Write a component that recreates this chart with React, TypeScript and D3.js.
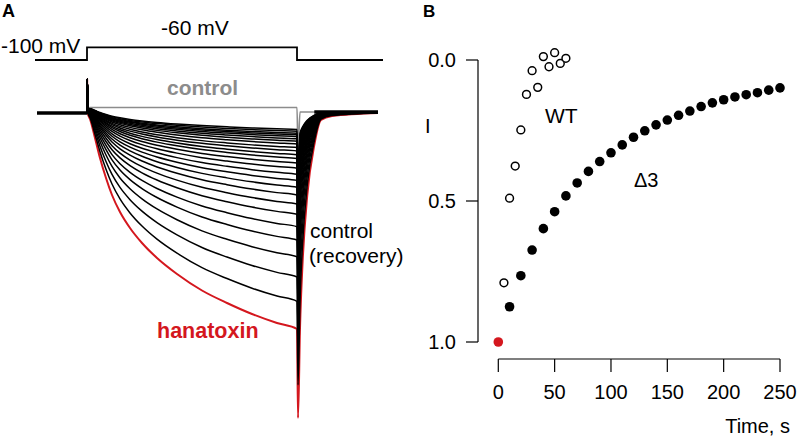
import * as d3 from 'd3'

// panel B: recovery of current after hanatoxin washout (normalized I)
const wtTime = [5, 10, 15, 20, 25, 30, 35, 40, 45, 50, 55, 60]
const wtI = [0.79, 0.49, 0.376, 0.248, 0.122, 0.038, 0.097, -0.012, 0.024, -0.026, 0.012, -0.006]

const d3Time = [10, 20, 30, 40, 50, 60, 70, 80, 90, 100, 110, 120, 130, 140, 150, 160, 170, 180, 190, 200, 210, 220, 230, 240, 250]
const d3I = [0.875, 0.765, 0.674, 0.598, 0.538, 0.482, 0.436, 0.395, 0.36, 0.329, 0.301, 0.274, 0.251, 0.23, 0.213, 0.196, 0.181, 0.165, 0.152, 0.141, 0.131, 0.123, 0.116, 0.107, 0.099]

const toxinTime = [0]
const toxinI = [1.0]

const xTicksB = [0, 50, 100, 150, 200, 250]
const yTicksB = [0, 0.5, 1]

// panel A: current sweeps (ms, nA)
const sweepT = [-50, 0, 0.2, 1, 3, 8, 13, 19, 25, 33, 43, 55, 70, 90, 115, 140, 165, 190, 210, 211, 213, 215.6, 220.3, 227.3, 234, 245, 291]
const hanatoxinI = [0, 0, 0.68, -0.02, -0.12, -0.5, -0.9, -1.3, -1.64, -1.98, -2.3, -2.6, -2.9, -3.22, -3.55, -3.8, -4.02, -4.2, -4.32, -6.1, -4.3, -2.98, -1.64, -0.64, -0.14, -0.06, 0]
const controlI = [0, 0, 0.68, 0.1, 0.11, 0.11, 0.11, 0.11, 0.11, 0.11, 0.11, 0.11, 0.11, 0.11, 0.11, 0.11, 0.11, 0.11, 0.11, -0.8, 0.02, 0.02, 0.02, 0.02, 0.02, 0.02, 0.02]

const protocolT = [-52, 0, 0, 210, 210, 296]
const protocolV = [-100, -100, -60, -60, -100, -100]

const FONT = '"Liberation Sans", Arial, sans-serif'
const RED = '#d4171e'

export default function App() {
  // panel A scales
  const xA = d3.scaleLinear([-52, 296], [35, 383])
  const yA = d3.scaleLinear([0, -1], [113, 163])
  const yV = d3.scaleLinear([-100, -60], [60, 47.3])

  // panel B scales
  const xB = d3.scaleLinear([0, 250], [498.3, 780])
  const yB = d3.scaleLinear([0, 1], [60, 342])

  const sweepLine = d3.line<[number, number]>()
    .x(d => xA(d[0]))
    .y(d => yA(d[1]))
    .curve(d3.curveMonotoneX)

  const protocolLine = d3.line<[number, number]>()
    .x(d => xA(d[0]))
    .y(d => yV(d[1]))

  const toxinPts = sweepT.map((t, i) => [t, hanatoxinI[i]] as [number, number])
  const controlPts = sweepT.map((t, i) => [t, controlI[i]] as [number, number])
  // each recovery sweep is the blocked fraction f of the toxin sweep plus the rest of the control
  const recoverySweeps = d3I.map(f =>
    sweepT.map((t, i) => [t, f * hanatoxinI[i] + (1 - f) * controlI[i]] as [number, number])
  )
  const noisyPre = toxinPts.filter(d => d[0] <= 0)
  const noisyPost = controlPts.filter(d => d[0] >= 227)

  return (
    <svg width={800} height={439} style={{ position: 'absolute', left: 0, top: 0, background: '#fff' }}
      fontFamily={FONT}>
      {/* ---- panel A ---- */}
      <text x={2} y={17} fontSize={18} fontWeight="bold">A</text>
      <path d={protocolLine(protocolT.map((t, i) => [t, protocolV[i]]))!} fill="none" stroke="#000" strokeWidth={1.8} />
      <text x={1} y={53} fontSize={21}>-100 mV</text>
      <text x={161} y={35} fontSize={21}>-60 mV</text>

      <path d={sweepLine(controlPts)!} fill="none" stroke="#8c8c8c" strokeWidth={1.6} />
      <path d={sweepLine(toxinPts)!} fill="none" stroke={RED} strokeWidth={2} />
      {recoverySweeps.map((pts, i) => (
        <path key={i} d={sweepLine(pts)!} fill="none" stroke="#000" strokeWidth={1.5} />
      ))}
      <path d={sweepLine(noisyPre)!} fill="none" stroke="#000" strokeWidth={3.5} />
      <path d={sweepLine(noisyPost)!} fill="none" stroke="#000" strokeWidth={3.5} />

      <text x={167} y={95} fontSize={21} fontWeight="bold" fill="#8c8c8c">control</text>
      <text x={310} y={238} fontSize={21}>control</text>
      <text x={309} y={263} fontSize={21}>(recovery)</text>
      <text x={157} y={338} fontSize={21.5} fontWeight="bold" fill={RED}>hanatoxin</text>

      {/* ---- panel B ---- */}
      <text x={423} y={17} fontSize={17} fontWeight="bold">B</text>

      <g stroke="#000" strokeWidth={1.2}>
        <line x1={478} x2={478} y1={yB(0)} y2={yB(1)} />
        {yTicksB.map(v => <line key={v} x1={466} x2={478} y1={yB(v)} y2={yB(v)} />)}
        <line x1={xB(0)} x2={xB(250)} y1={359} y2={359} />
        {xTicksB.map(v => <line key={v} x1={xB(v)} x2={xB(v)} y1={359} y2={372} />)}
      </g>
      {yTicksB.map(v => (
        <text key={v} x={456} y={yB(v) + 7} fontSize={20} textAnchor="end">{d3.format('.1f')(v)}</text>
      ))}
      {xTicksB.map(v => (
        <text key={v} x={xB(v)} y={399} fontSize={20} textAnchor="middle">{v}</text>
      ))}
      <text x={425} y={133} fontSize={20}>I</text>
      <text x={790} y={433} fontSize={20} textAnchor="end">Time, s</text>

      {wtTime.map((t, i) => (
        <circle key={i} cx={xB(t)} cy={yB(wtI[i])} r={3.9} fill="#fff" stroke="#000" strokeWidth={1.5} />
      ))}
      {d3Time.map((t, i) => (
        <circle key={i} cx={xB(t)} cy={yB(d3I[i])} r={4.8} fill="#000" />
      ))}
      {toxinTime.map((t, i) => (
        <circle key={i} cx={xB(t)} cy={yB(toxinI[i])} r={4.8} fill={RED} />
      ))}
      <text x={545} y={123} fontSize={21}>WT</text>
      <text x={634} y={187} fontSize={20}>Δ3</text>
    </svg>
  )
}
